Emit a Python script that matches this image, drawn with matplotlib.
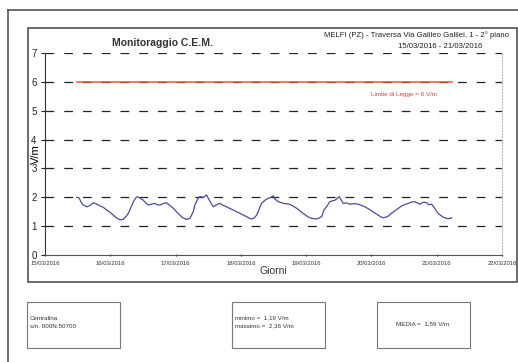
import matplotlib
matplotlib.use("Agg")
import matplotlib.pyplot as plt
import matplotlib.dates as mdates
from matplotlib.patches import Rectangle
from matplotlib.lines import Line2D
import pandas as pd

plt.rcParams["font.family"] = ["Liberation Sans", "DejaVu Sans"]

# campo elettrico misurato (ore dall'inizio del 15/03/2016, V/m)
ore = [11.7, 12.5, 13.5, 14.3, 15.3, 16.2, 17.8, 18.7, 20.2, 21.3, 22.7, 23.9,
       25.1, 26.1, 26.9, 27.9, 28.8, 29.8, 30.6, 31.6, 32.5, 33.3, 33.9, 34.9,
       36.1, 37.1, 38.0, 39.1, 40.4, 41.3, 42.3, 43.4, 44.7, 45.9, 47.2, 48.3,
       49.6, 50.5, 51.5, 52.4, 53.3, 54.5, 55.1, 56.3, 57.0, 58.1, 59.4, 60.0,
       61.0, 61.9, 63.0, 64.3, 65.4, 66.8, 68.0, 69.2, 70.4, 71.7, 73.0, 74.1,
       75.0, 76.0, 76.8, 77.8, 78.7, 79.6, 80.9, 82.1, 83.1, 83.9, 84.5, 85.7,
       86.7, 87.6, 88.9, 90.0, 91.1, 92.5, 93.7, 94.9, 96.1, 97.4, 98.5, 99.9,
       100.7, 101.7, 102.5, 103.5, 104.7, 106.6, 108.2, 108.8, 109.6, 111.0,
       112.1, 113.6, 115.2, 116.3, 117.6, 118.9, 120.1, 121.3, 122.5, 123.5,
       124.3, 125.3, 126.2, 127.3, 128.6, 129.9, 131.1, 132.3, 133.5, 134.7,
       136.0, 136.9, 137.8, 139.1, 140.3, 141.1, 142.1, 143.0, 144.0, 144.8,
       145.8, 146.6, 147.6, 148.5, 149.5]
campo = [2.00, 1.98, 1.79, 1.72, 1.67, 1.70, 1.81, 1.78, 1.70, 1.66, 1.56, 1.48,
         1.38, 1.30, 1.25, 1.22, 1.24, 1.33, 1.44, 1.65, 1.85, 1.97, 2.02, 1.98,
         1.90, 1.80, 1.73, 1.76, 1.79, 1.74, 1.73, 1.78, 1.81, 1.72, 1.62, 1.50,
         1.38, 1.30, 1.25, 1.24, 1.27, 1.50, 1.73, 1.97, 2.03, 1.99, 2.08, 1.97,
         1.80, 1.67, 1.74, 1.79, 1.72, 1.67, 1.61, 1.56, 1.50, 1.44, 1.38, 1.33,
         1.28, 1.25, 1.28, 1.38, 1.58, 1.79, 1.90, 1.97, 2.00, 2.05, 1.94, 1.85,
         1.82, 1.79, 1.77, 1.76, 1.70, 1.62, 1.53, 1.44, 1.36, 1.29, 1.26, 1.25,
         1.28, 1.33, 1.55, 1.67, 1.85, 1.90, 2.02, 1.92, 1.79, 1.80,
         1.76, 1.78, 1.76, 1.72, 1.67, 1.60, 1.53, 1.45, 1.38, 1.32,
         1.29, 1.31, 1.35, 1.44, 1.53, 1.62, 1.70, 1.75, 1.79, 1.83,
         1.85, 1.80, 1.76, 1.83, 1.81, 1.74, 1.76, 1.66, 1.50, 1.42,
         1.35, 1.30, 1.27, 1.26, 1.29]

limite = 6
inizio = pd.Timestamp("2016-03-15")
fine = pd.Timestamp("2016-03-22")
tempi = inizio + pd.to_timedelta(ore, unit="h")

fig = plt.figure(figsize=(5.18, 3.62), dpi=100)
W, H = 518, 362

def px(x, y):
    return x / W, 1 - y / H

# cornice esterna del documento e riquadro del grafico
fig.add_artist(Line2D([8 / W, 8 / W], [0, 1 - 10 / H], color="#555555", lw=1.2))
fig.add_artist(Line2D([8 / W, 1], [1 - 10 / H, 1 - 10 / H], color="#555555", lw=1.2))
fig.add_artist(Rectangle(px(28, 282), (517 - 28) / W, (282 - 28) / H,
                         fill=False, ec="#444444", lw=1.1))

ax = fig.add_axes([45 / W, 1 - 255 / H, (502 - 45) / W, (255 - 53) / H])
ax.plot(tempi, campo, color="#4b4b9c", lw=0.9)
ax.plot([tempi[0], tempi[-1]], [limite, limite], color="#e8553a", lw=1.1)

ax.set_xlim(inizio, fine)
ax.set_ylim(0, 7)
ax.set_yticks(range(0, 8))
for v in range(1, 8):
    ax.axhline(v, color="#222222", lw=0.9, ls=(0, (7, 8)), zorder=0)

ax.xaxis.set_major_locator(mdates.DayLocator())
ax.xaxis.set_major_formatter(mdates.DateFormatter("%d/%m/%Y"))
ax.tick_params(axis="x", labelsize=4.2, length=2, direction="inout", pad=3,
               colors="#333333")
ax.tick_params(axis="y", labelsize=7, length=3, pad=3, colors="#222222")

ax.spines["top"].set_visible(False)
ax.spines["right"].set_color("#bbbbbb")
ax.spines["right"].set_linestyle(":")
ax.spines["left"].set_color("#333333")
ax.spines["bottom"].set_color("#555555")

ax.set_ylabel("V/m", fontsize=8, labelpad=-7)
ax.set_xlabel("Giorni", fontsize=7.5, labelpad=0, color="#333333")

fig.text(*px(163, 43), "Monitoraggio C.E.M.", fontsize=7.5, ha="center",
         va="center", color="#333333", fontweight="bold")
fig.text(*px(416, 35), "MELFI (PZ) - Traversa Via Galileo Galilei, 1 - 2° piano",
         fontsize=5.6, ha="center", va="center", color="#222222",
         family=["Liberation Sans Narrow", "Liberation Sans", "DejaVu Sans"])
fig.text(*px(440, 47), "15/03/2016 - 21/03/2016", fontsize=5.6, ha="center",
         va="center", color="#222222",
         family=["Liberation Sans Narrow", "Liberation Sans", "DejaVu Sans"],
         bbox=dict(fc="white", ec="none", pad=1))
ax.text(pd.Timestamp("2016-03-20 12:00"), 5.55, "Limite di Legge = 6 V/m",
        fontsize=4.5, ha="center", va="center", color="#e04030")

# riquadri informativi
box = dict(fill=False, ec="#777777", lw=0.8)
fig.add_artist(Rectangle(px(27, 348), 93 / W, 46 / H, **box))
fig.add_artist(Rectangle(px(232, 348), 93 / W, 46 / H, **box))
fig.add_artist(Rectangle(px(377, 348), 93 / W, 46 / H, **box))

fig.text(*px(30, 318), "Centralina", fontsize=4.5, va="center", color="#333333")
fig.text(*px(30, 326), "s/n. 000N.50700", fontsize=4.5, va="center", color="#333333")
fig.text(*px(235, 318), "minimo =  1,19 V/m", fontsize=4.5, va="center", color="#333333")
fig.text(*px(235, 326), "massimo =  2,36 V/m", fontsize=4.5, va="center", color="#333333")
fig.text(*px(423, 324), "MEDIA =  1,59 V/m", fontsize=4.5, ha="center",
         va="center", color="#333333")

fig.savefig("out.png", dpi=100)
